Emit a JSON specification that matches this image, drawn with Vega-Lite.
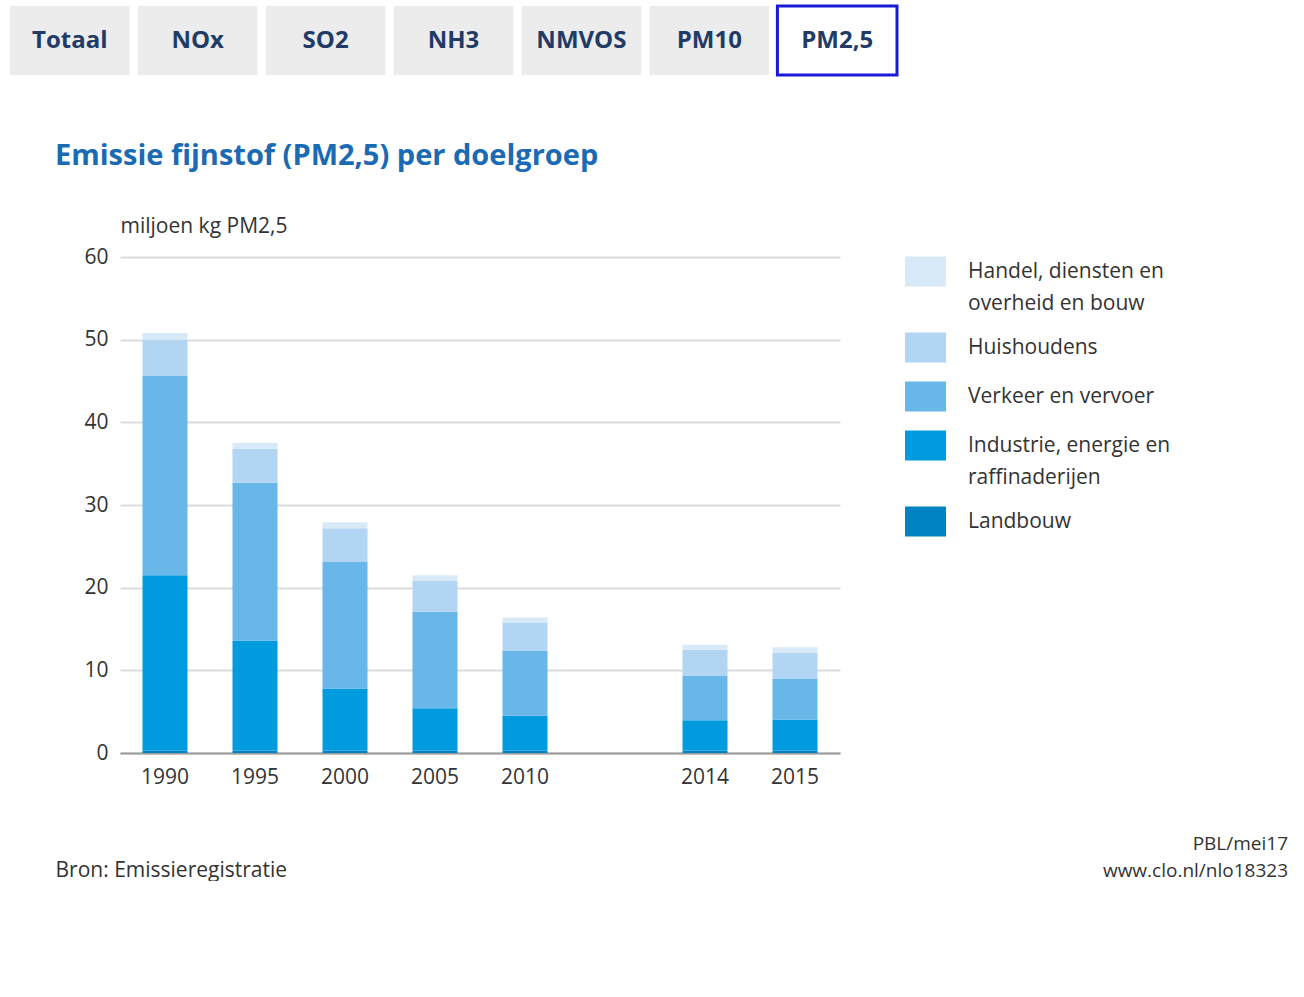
{
  "$schema": "https://vega.github.io/schema/vega-lite/v6.json",
  "background": "white",
  "padding": {"left": 8, "top": 4, "right": 0, "bottom": 0},
  "config": {"font": "Open Sans", "view": {"stroke": null}},
  "title": {
    "text": ["PBL/mei17", "www.clo.nl/nlo18323"],
    "orient": "bottom", "anchor": "end", "align": "right",
    "fontSize": 19, "fontWeight": "normal", "color": "#333333",
    "lineHeight": 27, "dx": 117, "offset": -45, "font": "Open Sans"
  },
  "spacing": 65,
  "resolve": {"legend": {"color": "independent"}, "scale": {"color": "independent", "x": "independent"}},
  "vconcat": [
    {
      "width": 887,
      "height": 69,
      "data": {"values": [
        {"tab": "Totaal"}, {"tab": "NOx"}, {"tab": "SO2"}, {"tab": "NH3"},
        {"tab": "NMVOS"}, {"tab": "PM10"}, {"tab": "PM2,5"}
      ]},
      "encoding": {
        "x": {"field": "tab", "type": "nominal", "sort": null, "axis": null,
              "scale": {"paddingInner": 0.065, "paddingOuter": 0}}
      },
      "layer": [
        {
          "mark": {"type": "bar", "strokeWidth": 3},
          "encoding": {
            "color": {"condition": {"test": "datum.tab === 'PM2,5'", "value": "#ffffff"}, "value": "#ececec"},
            "stroke": {"condition": {"test": "datum.tab === 'PM2,5'", "value": "#1a1ad6"}, "value": "transparent"}
          }
        },
        {
          "mark": {"type": "text", "fontSize": 24, "fontWeight": "bold", "color": "#1f3b66", "font": "Open Sans"},
          "encoding": {"text": {"field": "tab"}}
        }
      ]
    },
    {
      "spacing": 0,
      "resolve": {"legend": {"color": "independent"}, "scale": {"color": "independent", "x": "independent", "y": "independent"}},
      "hconcat": [
        {
          "width": 1,
          "height": 1,
          "data": {"values": [{"leeg": ""}]},
          "mark": {"type": "text"},
          "encoding": {"text": {"field": "leeg"}}
        },
        {
          "width": 720,
          "height": 496,
          "title": {
            "text": "Emissie fijnstof (PM2,5) per doelgroep",
            "anchor": "start", "frame": "group", "dx": -65,
            "fontSize": 29, "fontWeight": "bold", "color": "#1a6ab4",
            "offset": 44, "font": "Open Sans"
          },
          "data": {"values": [
            {"jaar": "1990", "doelgroep": "Landbouw", "waarde": 0.3},
            {"jaar": "1990", "doelgroep": "Industrie, energie en raffinaderijen", "waarde": 21.2},
            {"jaar": "1990", "doelgroep": "Verkeer en vervoer", "waarde": 24.1},
            {"jaar": "1990", "doelgroep": "Huishoudens", "waarde": 4.4},
            {"jaar": "1990", "doelgroep": "Handel, diensten en overheid en bouw", "waarde": 0.8},
            {"jaar": "1995", "doelgroep": "Landbouw", "waarde": 0.3},
            {"jaar": "1995", "doelgroep": "Industrie, energie en raffinaderijen", "waarde": 13.3},
            {"jaar": "1995", "doelgroep": "Verkeer en vervoer", "waarde": 19.1},
            {"jaar": "1995", "doelgroep": "Huishoudens", "waarde": 4.1},
            {"jaar": "1995", "doelgroep": "Handel, diensten en overheid en bouw", "waarde": 0.7},
            {"jaar": "2000", "doelgroep": "Landbouw", "waarde": 0.3},
            {"jaar": "2000", "doelgroep": "Industrie, energie en raffinaderijen", "waarde": 7.5},
            {"jaar": "2000", "doelgroep": "Verkeer en vervoer", "waarde": 15.3},
            {"jaar": "2000", "doelgroep": "Huishoudens", "waarde": 4.1},
            {"jaar": "2000", "doelgroep": "Handel, diensten en overheid en bouw", "waarde": 0.7},
            {"jaar": "2005", "doelgroep": "Landbouw", "waarde": 0.3},
            {"jaar": "2005", "doelgroep": "Industrie, energie en raffinaderijen", "waarde": 5.1},
            {"jaar": "2005", "doelgroep": "Verkeer en vervoer", "waarde": 11.7},
            {"jaar": "2005", "doelgroep": "Huishoudens", "waarde": 3.7},
            {"jaar": "2005", "doelgroep": "Handel, diensten en overheid en bouw", "waarde": 0.7},
            {"jaar": "2010", "doelgroep": "Landbouw", "waarde": 0.3},
            {"jaar": "2010", "doelgroep": "Industrie, energie en raffinaderijen", "waarde": 4.2},
            {"jaar": "2010", "doelgroep": "Verkeer en vervoer", "waarde": 7.9},
            {"jaar": "2010", "doelgroep": "Huishoudens", "waarde": 3.4},
            {"jaar": "2010", "doelgroep": "Handel, diensten en overheid en bouw", "waarde": 0.6},
            {"jaar": "2014", "doelgroep": "Landbouw", "waarde": 0.3},
            {"jaar": "2014", "doelgroep": "Industrie, energie en raffinaderijen", "waarde": 3.65},
            {"jaar": "2014", "doelgroep": "Verkeer en vervoer", "waarde": 5.35},
            {"jaar": "2014", "doelgroep": "Huishoudens", "waarde": 3.2},
            {"jaar": "2014", "doelgroep": "Handel, diensten en overheid en bouw", "waarde": 0.6},
            {"jaar": "2015", "doelgroep": "Landbouw", "waarde": 0.3},
            {"jaar": "2015", "doelgroep": "Industrie, energie en raffinaderijen", "waarde": 3.75},
            {"jaar": "2015", "doelgroep": "Verkeer en vervoer", "waarde": 4.95},
            {"jaar": "2015", "doelgroep": "Huishoudens", "waarde": 3.1},
            {"jaar": "2015", "doelgroep": "Handel, diensten en overheid en bouw", "waarde": 0.7}
          ]},
          "transform": [
            {"calculate": "indexof(['Landbouw', 'Industrie, energie en raffinaderijen', 'Verkeer en vervoer', 'Huishoudens', 'Handel, diensten en overheid en bouw'], datum.doelgroep)", "as": "stapel"}
          ],
          "mark": {"type": "bar"},
          "encoding": {
            "x": {
              "field": "jaar", "type": "nominal",
              "scale": {"domain": ["1990", "1995", "2000", "2005", "2010", " ", "2014", "2015"], "paddingInner": 0.5, "paddingOuter": 0.25},
              "axis": {
                "title": "Bron: Emissieregistratie",
                "titleX": -65, "titleY": 117, "titleAlign": "left", "titleBaseline": "middle",
                "titleFontSize": 21, "titleFontWeight": "normal", "titleColor": "#333333", "titleFont": "Open Sans",
                "labelAngle": 0, "labelFontSize": 21, "labelColor": "#333333", "labelPadding": 13,
                "ticks": false, "domain": true, "domainColor": "#9a9a9a", "domainWidth": 2
              }
            },
            "y": {
              "field": "waarde", "type": "quantitative", "stack": "zero",
              "scale": {"domain": [0, 60]},
              "axis": {
                "values": [0, 10, 20, 30, 40, 50, 60],
                "title": "miljoen kg PM2,5",
                "titleAngle": 0, "titleX": 0, "titleY": -31, "titleAlign": "left", "titleBaseline": "middle",
                "titleFontSize": 21, "titleFontWeight": "normal", "titleColor": "#333333", "titleFont": "Open Sans",
                "labelFontSize": 21, "labelColor": "#333333",
                "ticks": true, "tickSize": 109, "tickOpacity": 0, "labelPadding": -97,
                "domain": false, "grid": true, "gridColor": "#dcdcdc", "gridWidth": 2
              }
            },
            "color": {
              "field": "doelgroep", "type": "nominal",
              "scale": {
                "domain": ["Handel, diensten en overheid en bouw", "Huishoudens", "Verkeer en vervoer", "Industrie, energie en raffinaderijen", "Landbouw"],
                "range": ["#d8e9f8", "#b2d5f3", "#69b6e9", "#009ade", "#0083c1"]
              },
              "legend": {
                "title": null, "orient": "none", "legendX": 785, "legendY": -6,
                "symbolType": "M-1,-0.73H1V0.73H-1Z", "symbolSize": 1681, "symbolStrokeWidth": 0, "symbolOpacity": 1,
                "labelFontSize": 21, "labelColor": "#333333", "labelLimit": 320, "labelOffset": 22, "labelFont": "Open Sans",
                "rowPadding": 13,
                "encode": {"labels": {"update": {"lineHeight": {"value": 32}}}},
                "labelExpr": "datum.label == 'Handel, diensten en overheid en bouw' ? ['Handel, diensten en', 'overheid en bouw'] : datum.label == 'Industrie, energie en raffinaderijen' ? ['Industrie, energie en', 'raffinaderijen'] : datum.label"
              }
            },
            "order": {"field": "stapel", "type": "quantitative"}
          }
        }
      ]
    }
  ]
}
